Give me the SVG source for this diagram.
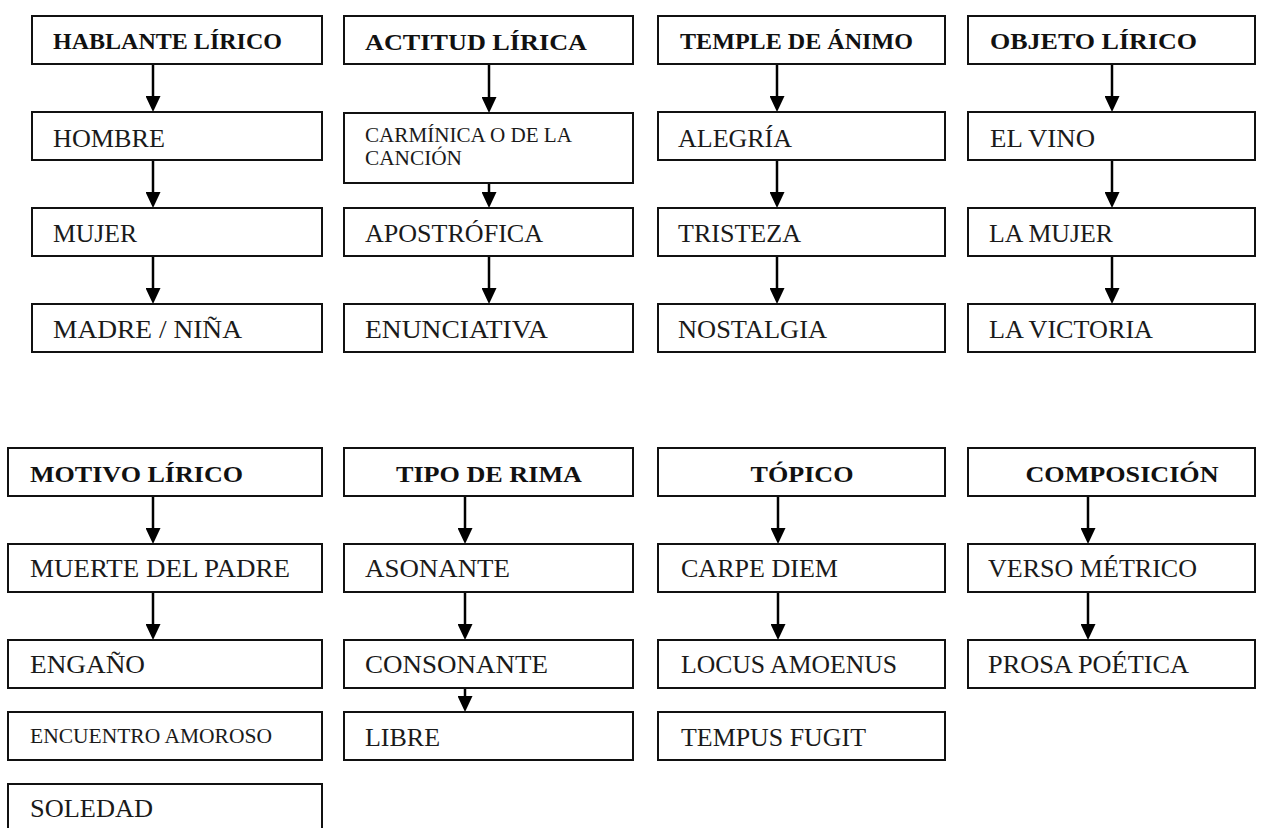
<svg xmlns="http://www.w3.org/2000/svg" width="1270" height="828" viewBox="0 0 1270 828">
<defs>
<style>
.box{fill:#fff;stroke:#111;stroke-width:2}
.h{font-family:"Liberation Serif","Times New Roman",serif;font-weight:bold;font-size:24px;fill:#111}
.t{font-family:"Liberation Serif","Times New Roman",serif;font-size:26px;fill:#1a1a1a}
.s{font-family:"Liberation Serif","Times New Roman",serif;font-size:20px;fill:#1a1a1a}
.c line{stroke:#000;stroke-width:2.5;marker-end:url(#ah)}
</style>
<marker id="ah" markerUnits="userSpaceOnUse" markerWidth="16" markerHeight="15" viewBox="0 0 16 15" refX="11" refY="7.5" orient="auto">
<path d="M0,0 L16,7.5 L0,15 Z" fill="#000"/>
</marker>
</defs>
<rect width="1270" height="828" fill="#fff"/>

<g class="c" id="connectors">
<line x1="153" y1="64" x2="153" y2="107"/>
<line x1="153" y1="160" x2="153" y2="203"/>
<line x1="153" y1="256" x2="153" y2="299"/>
<line x1="489" y1="64" x2="489" y2="108"/>
<line x1="489" y1="183" x2="489" y2="203"/>
<line x1="489" y1="256" x2="489" y2="299"/>
<line x1="777" y1="64" x2="777" y2="107"/>
<line x1="777" y1="160" x2="777" y2="203"/>
<line x1="777" y1="256" x2="777" y2="299"/>
<line x1="1112" y1="64" x2="1112" y2="107"/>
<line x1="1112" y1="160" x2="1112" y2="203"/>
<line x1="1112" y1="256" x2="1112" y2="299"/>
<line x1="153" y1="496" x2="153" y2="539"/>
<line x1="153" y1="592" x2="153" y2="635"/>
<line x1="465" y1="496" x2="465" y2="539"/>
<line x1="465" y1="592" x2="465" y2="635"/>
<line x1="465" y1="688" x2="465" y2="707"/>
<line x1="778" y1="496" x2="778" y2="539"/>
<line x1="778" y1="592" x2="778" y2="635"/>
<line x1="1088" y1="496" x2="1088" y2="539"/>
<line x1="1088" y1="592" x2="1088" y2="635"/>
</g>

<g id="hablante"><rect class="box" x="32" y="16" width="290" height="48"/><text class="h" x="53" y="49" textLength="229" lengthAdjust="spacingAndGlyphs">HABLANTE LÍRICO</text></g>
<g id="hombre"><rect class="box" x="32" y="112" width="290" height="48"/><text class="t" x="53" y="147" textLength="112" lengthAdjust="spacingAndGlyphs">HOMBRE</text></g>
<g id="mujer"><rect class="box" x="32" y="208" width="290" height="48"/><text class="t" x="53" y="242" textLength="84" lengthAdjust="spacingAndGlyphs">MUJER</text></g>
<g id="madre"><rect class="box" x="32" y="304" width="290" height="48"/><text class="t" x="53" y="338" textLength="189" lengthAdjust="spacingAndGlyphs">MADRE / NIÑA</text></g>

<g id="actitud"><rect class="box" x="344" y="16" width="289" height="48"/><text class="h" x="365" y="50" font-size="26" textLength="222" lengthAdjust="spacingAndGlyphs">ACTITUD LÍRICA</text></g>
<g id="carminica"><rect class="box" x="344" y="113" width="289" height="70"/><text class="s" x="365" y="142" textLength="207" lengthAdjust="spacingAndGlyphs">CARMÍNICA O DE LA</text><text class="s" x="365" y="165" textLength="97" lengthAdjust="spacingAndGlyphs">CANCIÓN</text></g>
<g id="apostrofica"><rect class="box" x="344" y="208" width="289" height="48"/><text class="t" x="365" y="242" textLength="178" lengthAdjust="spacingAndGlyphs">APOSTRÓFICA</text></g>
<g id="enunciativa"><rect class="box" x="344" y="304" width="289" height="48"/><text class="t" x="365" y="338" textLength="183" lengthAdjust="spacingAndGlyphs">ENUNCIATIVA</text></g>

<g id="temple"><rect class="box" x="658" y="16" width="287" height="48"/><text class="h" x="680" y="49" textLength="233" lengthAdjust="spacingAndGlyphs">TEMPLE DE ÁNIMO</text></g>
<g id="alegria"><rect class="box" x="658" y="112" width="287" height="48"/><text class="t" x="678" y="147" textLength="114" lengthAdjust="spacingAndGlyphs">ALEGRÍA</text></g>
<g id="tristeza"><rect class="box" x="658" y="208" width="287" height="48"/><text class="t" x="678" y="242" textLength="123" lengthAdjust="spacingAndGlyphs">TRISTEZA</text></g>
<g id="nostalgia"><rect class="box" x="658" y="304" width="287" height="48"/><text class="t" x="678" y="338" textLength="149" lengthAdjust="spacingAndGlyphs">NOSTALGIA</text></g>

<g id="objeto"><rect class="box" x="968" y="16" width="287" height="48"/><text class="h" x="990" y="49" textLength="207" lengthAdjust="spacingAndGlyphs">OBJETO LÍRICO</text></g>
<g id="vino"><rect class="box" x="968" y="112" width="287" height="48"/><text class="t" x="990" y="147" textLength="105" lengthAdjust="spacingAndGlyphs">EL VINO</text></g>
<g id="lamujer"><rect class="box" x="968" y="208" width="287" height="48"/><text class="t" x="989" y="242" textLength="124" lengthAdjust="spacingAndGlyphs">LA MUJER</text></g>
<g id="victoria"><rect class="box" x="968" y="304" width="287" height="48"/><text class="t" x="989" y="338" textLength="164" lengthAdjust="spacingAndGlyphs">LA VICTORIA</text></g>

<g id="motivo"><rect class="box" x="8" y="448" width="314" height="48"/><text class="h" x="30" y="482" font-size="26" textLength="213" lengthAdjust="spacingAndGlyphs">MOTIVO LÍRICO</text></g>
<g id="muerte"><rect class="box" x="8" y="544" width="314" height="48"/><text class="t" x="30" y="577" textLength="260" lengthAdjust="spacingAndGlyphs">MUERTE DEL PADRE</text></g>
<g id="engano"><rect class="box" x="8" y="640" width="314" height="48"/><text class="t" x="30" y="673" textLength="115" lengthAdjust="spacingAndGlyphs">ENGAÑO</text></g>
<g id="encuentro"><rect class="box" x="8" y="712" width="314" height="48"/><text class="s" x="30" y="743" font-size="21" textLength="242" lengthAdjust="spacingAndGlyphs">ENCUENTRO AMOROSO</text></g>
<g id="soledad"><rect class="box" x="8" y="784" width="314" height="70"/><text class="t" x="30" y="817" textLength="123" lengthAdjust="spacingAndGlyphs">SOLEDAD</text></g>

<g id="tipo"><rect class="box" x="344" y="448" width="289" height="48"/><text class="h" x="489" y="482" font-size="26" text-anchor="middle" textLength="186" lengthAdjust="spacingAndGlyphs">TIPO DE RIMA</text></g>
<g id="asonante"><rect class="box" x="344" y="544" width="289" height="48"/><text class="t" x="365" y="577" textLength="145" lengthAdjust="spacingAndGlyphs">ASONANTE</text></g>
<g id="consonante"><rect class="box" x="344" y="640" width="289" height="48"/><text class="t" x="365" y="673" textLength="183" lengthAdjust="spacingAndGlyphs">CONSONANTE</text></g>
<g id="libre"><rect class="box" x="344" y="712" width="289" height="48"/><text class="t" x="365" y="746" textLength="75" lengthAdjust="spacingAndGlyphs">LIBRE</text></g>

<g id="topico"><rect class="box" x="658" y="448" width="287" height="48"/><text class="h" x="802" y="482" font-size="26" text-anchor="middle" textLength="103" lengthAdjust="spacingAndGlyphs">TÓPICO</text></g>
<g id="carpe"><rect class="box" x="658" y="544" width="287" height="48"/><text class="t" x="681" y="577" textLength="157" lengthAdjust="spacingAndGlyphs">CARPE DIEM</text></g>
<g id="locus"><rect class="box" x="658" y="640" width="287" height="48"/><text class="t" x="681" y="673" textLength="216" lengthAdjust="spacingAndGlyphs">LOCUS AMOENUS</text></g>
<g id="tempus"><rect class="box" x="658" y="712" width="287" height="48"/><text class="t" x="681" y="746" textLength="185" lengthAdjust="spacingAndGlyphs">TEMPUS FUGIT</text></g>

<g id="composicion"><rect class="box" x="968" y="448" width="287" height="48"/><text class="h" x="1122" y="482" font-size="26" text-anchor="middle" textLength="193" lengthAdjust="spacingAndGlyphs">COMPOSICIÓN</text></g>
<g id="verso"><rect class="box" x="968" y="544" width="287" height="48"/><text class="t" x="988" y="577" textLength="209" lengthAdjust="spacingAndGlyphs">VERSO MÉTRICO</text></g>
<g id="prosa"><rect class="box" x="968" y="640" width="287" height="48"/><text class="t" x="988" y="673" textLength="201" lengthAdjust="spacingAndGlyphs">PROSA POÉTICA</text></g>
</svg>
